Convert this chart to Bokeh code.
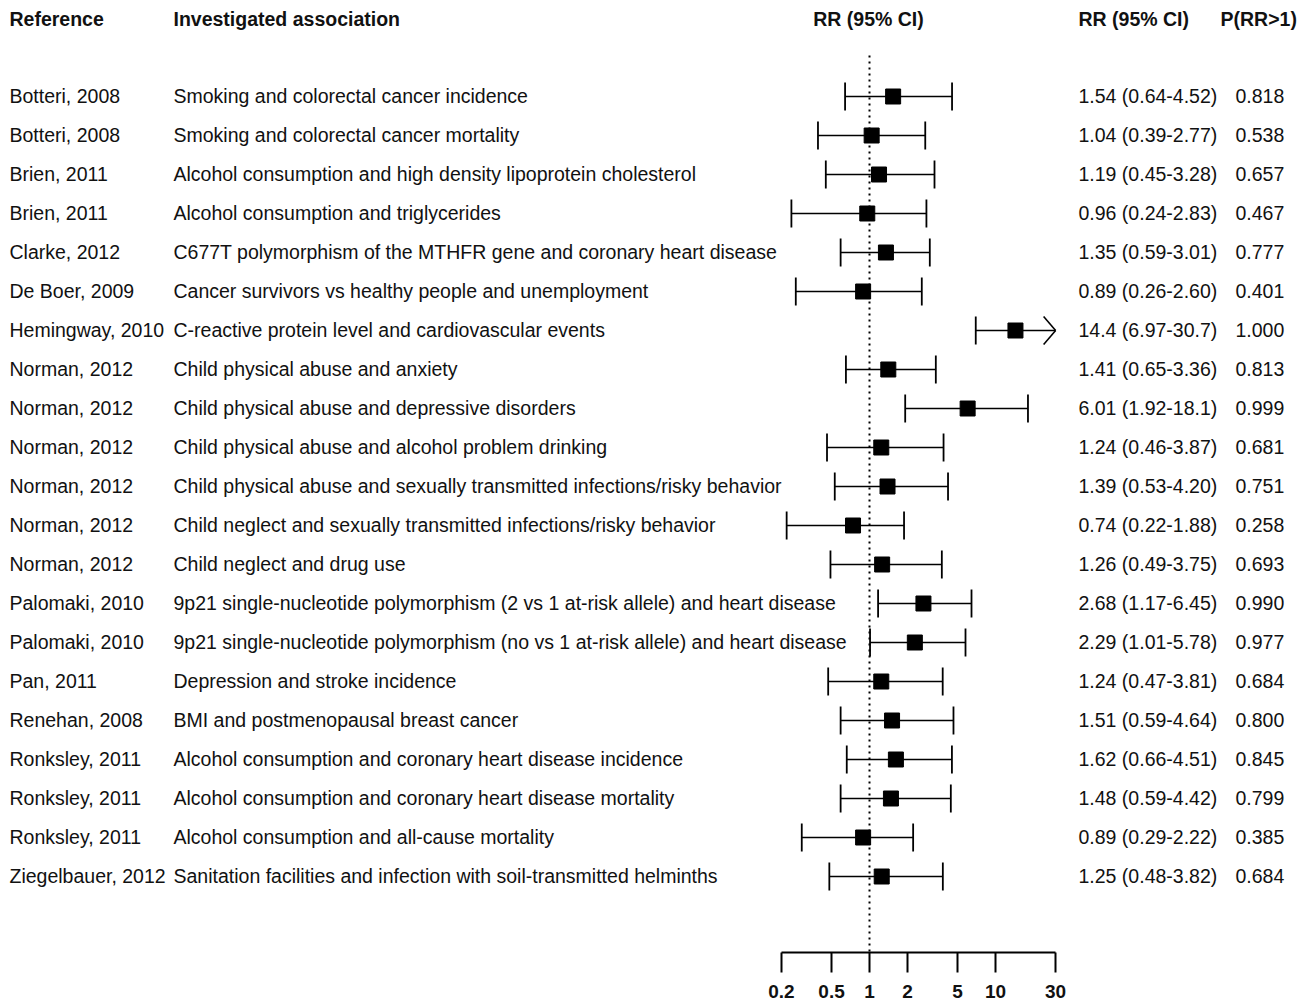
import numpy as np
from bokeh.plotting import figure
from bokeh.models import Range1d, LogScale, LogAxis, FixedTicker, CustomJSTickFormatter, ColumnDataSource
from bokeh.core.properties import value
from bokeh.embed import file_html
from bokeh.resources import INLINE

# ---------------- data ----------------
references = ["Botteri, 2008", "Botteri, 2008", "Brien, 2011", "Brien, 2011", "Clarke, 2012",
              "De Boer, 2009", "Hemingway, 2010", "Norman, 2012", "Norman, 2012", "Norman, 2012",
              "Norman, 2012", "Norman, 2012", "Norman, 2012", "Palomaki, 2010", "Palomaki, 2010",
              "Pan, 2011", "Renehan, 2008", "Ronksley, 2011", "Ronksley, 2011", "Ronksley, 2011",
              "Ziegelbauer, 2012"]
associations = [
    "Smoking and colorectal cancer incidence",
    "Smoking and colorectal cancer mortality",
    "Alcohol consumption and high density lipoprotein cholesterol",
    "Alcohol consumption and triglycerides",
    "C677T polymorphism of the MTHFR gene and coronary heart disease",
    "Cancer survivors vs healthy people and unemployment",
    "C-reactive protein level and cardiovascular events",
    "Child physical abuse and anxiety",
    "Child physical abuse and depressive disorders",
    "Child physical abuse and alcohol problem drinking",
    "Child physical abuse and sexually transmitted infections/risky behavior",
    "Child neglect and sexually transmitted infections/risky behavior",
    "Child neglect and drug use",
    "9p21 single-nucleotide polymorphism (2 vs 1 at-risk allele) and heart disease",
    "9p21 single-nucleotide polymorphism (no vs 1 at-risk allele) and heart disease",
    "Depression and stroke incidence",
    "BMI and postmenopausal breast cancer",
    "Alcohol consumption and coronary heart disease incidence",
    "Alcohol consumption and coronary heart disease mortality",
    "Alcohol consumption and all-cause mortality",
    "Sanitation facilities and infection with soil-transmitted helminths",
]
rr = [1.54, 1.04, 1.19, 0.96, 1.35, 0.89, 14.4, 1.41, 6.01, 1.24, 1.39, 0.74, 1.26, 2.68, 2.29,
      1.24, 1.51, 1.62, 1.48, 0.89, 1.25]
ci_low = [0.64, 0.39, 0.45, 0.24, 0.59, 0.26, 6.97, 0.65, 1.92, 0.46, 0.53, 0.22, 0.49, 1.17, 1.01,
          0.47, 0.59, 0.66, 0.59, 0.29, 0.48]
ci_high = [4.52, 2.77, 3.28, 2.83, 3.01, 2.60, 30.7, 3.36, 18.1, 3.87, 4.20, 1.88, 3.75, 6.45, 5.78,
           3.81, 4.64, 4.51, 4.42, 2.22, 3.82]
p_gt1 = ["0.818", "0.538", "0.657", "0.467", "0.777", "0.401", "1.000", "0.813", "0.999", "0.681",
         "0.751", "0.258", "0.693", "0.990", "0.977", "0.684", "0.800", "0.845", "0.799", "0.385",
         "0.684"]
axis_ticks = [0.2, 0.5, 1, 2, 5, 10, 30]
headers = ["Reference", "Investigated association", "RR (95% CI)", "RR (95% CI)", "P(RR>1)"]

# ---------------- layout ----------------
FW, FH = 1299, 952
ROW0, STEP = 96, 39          # pixel of first row, row spacing
X_ONE, PX_DEC = 869, 126     # pixel of RR=1, pixels per decade
AX_MIN, AX_MAX = axis_ticks[0], axis_ticks[-1]

def fmt(v):
    return f"{v:.2f}" if v < 10 else f"{v:.1f}"

n = len(rr)
rows = np.arange(n, dtype=float)
lo = np.array(ci_low)
hi = np.array(ci_high)
hi_c = np.minimum(hi, AX_MAX)
clipped = hi > AX_MAX
rr_text = [f"{fmt(a)} ({fmt(b)}-{fmt(c)})" for a, b, c in zip(rr, ci_low, ci_high)]

p = figure(x_range=Range1d(0, FW), y_range=Range1d((FH - ROW0) / STEP, -ROW0 / STEP),
           frame_width=FW, frame_height=FH, x_axis_location=None, y_axis_location=None,
           toolbar_location=None, output_backend="svg", min_border=0,
           outline_line_color=None, background_fill_color="white", border_fill_color="white")
p.extra_x_ranges = {"forest": Range1d(10 ** (-X_ONE / PX_DEC), 10 ** ((FW - X_ONE) / PX_DEC))}
p.extra_x_scales = {"forest": LogScale()}
p.xgrid.grid_line_color = None
p.ygrid.grid_line_color = None

FONT = value("Liberation Sans")
col = "#111111"
FS = "19.5px"
text_dy = -1.0 / STEP   # nudge text up by a pixel

# header
hy = (18 - ROW0) / STEP
hsrc = ColumnDataSource(dict(x=[9, 173, 868, 1078, 1220], y=[hy] * 5, t=headers,
                             a=["left", "left", "center", "left", "left"]))
p.text(x="x", y="y", text="t", text_align="a", source=hsrc, text_font=FONT,
       text_font_style="bold", text_font_size=FS, text_baseline="middle", text_color=col)

# body text columns
for xpos, labels in [(9, references), (173, associations), (1078, rr_text), (1235, p_gt1)]:
    p.text(x=[xpos] * n, y=rows + text_dy, text=labels, text_font=FONT, text_font_size=FS,
           text_baseline="middle", text_align="left", text_color=col)

# null line
p.segment(x0=[1], y0=[(55 - ROW0) / STEP], x1=[1], y1=[(FH - ROW0) / STEP],
          x_range_name="forest", line_color="black", line_width=2, line_dash="2 4")

# CIs
cap = 14 / STEP
p.segment(x0=lo, y0=rows, x1=hi_c, y1=rows, x_range_name="forest", line_color="black", line_width=1.6)
p.segment(x0=lo, y0=rows - cap, x1=lo, y1=rows + cap, x_range_name="forest",
          line_color="black", line_width=1.8)
uc = ~clipped
p.segment(x0=hi_c[uc], y0=rows[uc] - cap, x1=hi_c[uc], y1=rows[uc] + cap, x_range_name="forest",
          line_color="black", line_width=1.8)
# arrow heads for clipped intervals
back = hi_c[clipped] * 10 ** (-12 / PX_DEC)
for sgn in (-1, 1):
    p.segment(x0=back, y0=rows[clipped] + sgn * cap, x1=hi_c[clipped], y1=rows[clipped],
              x_range_name="forest", line_color="black", line_width=1.6)

# point estimates
p.scatter(x=rr, y=rows, marker="square", size=15, color="black", x_range_name="forest")

# axis
ax = LogAxis(x_range_name="forest", ticker=FixedTicker(ticks=axis_ticks, minor_ticks=[]),
             formatter=CustomJSTickFormatter(code="return String(tick);"),
             bounds=(AX_MIN, AX_MAX))
ax.axis_line_width = 2
ax.axis_line_color = "black"
ax.major_tick_line_width = 2
ax.major_tick_line_color = "black"
ax.major_tick_in = 0
ax.major_tick_out = 20
ax.minor_tick_out = 0
ax.minor_tick_in = 0
ax.major_label_standoff = 12
ax.major_label_text_font = "Liberation Sans"
ax.major_label_text_font_style = "bold"
ax.major_label_text_font_size = "19px"
ax.major_label_text_color = col
p.add_layout(ax, "below")

open("out.html", "w").write(file_html(p, INLINE))
